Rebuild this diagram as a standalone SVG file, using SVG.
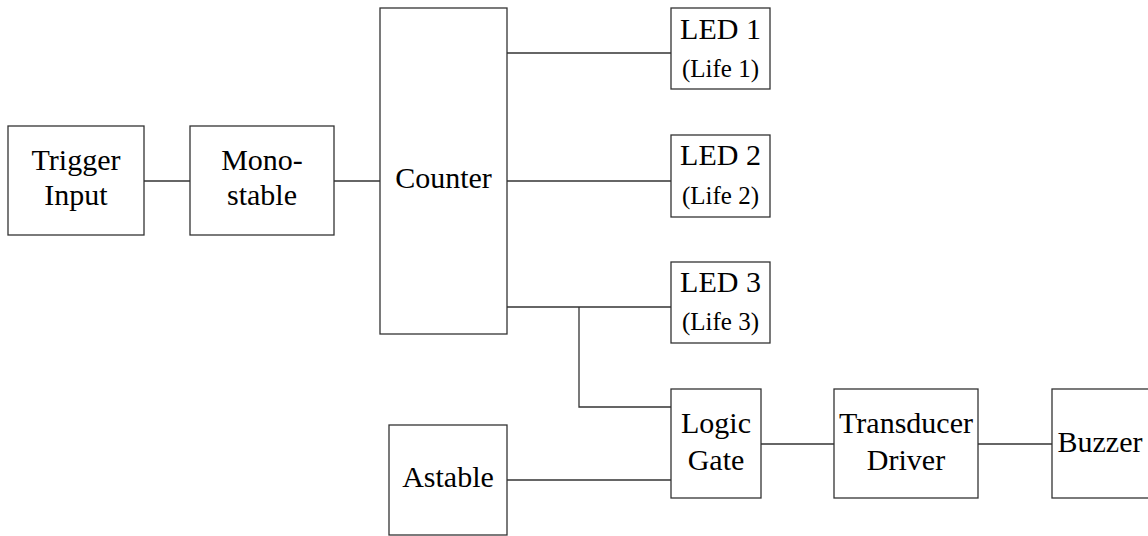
<svg xmlns="http://www.w3.org/2000/svg" width="1148" height="536" viewBox="0 0 1148 536">
<rect width="1148" height="536" fill="#fff"/>
<g id="connectors" fill="none" stroke="#333" stroke-width="1.3">
<line x1="144" y1="181" x2="190" y2="181"/>
<line x1="334" y1="181" x2="380" y2="181"/>
<line x1="507" y1="53" x2="671" y2="53"/>
<line x1="507" y1="181" x2="671" y2="181"/>
<line x1="507" y1="307" x2="671" y2="307"/>
<polyline points="579,307 579,407 671,407"/>
<line x1="507" y1="480" x2="671" y2="480"/>
<line x1="761" y1="444" x2="834" y2="444"/>
<line x1="978" y1="444" x2="1052" y2="444"/>
</g>
<g id="nodes" font-family="Liberation Serif" font-size="30" text-anchor="middle">
<g id="trigger"><rect x="8" y="126" width="136" height="109" fill="#fff" stroke="#333" stroke-width="1.3"/><text x="76" y="170">Trigger</text><text x="76" y="205">Input</text></g>
<g id="monostable"><rect x="190" y="126" width="144" height="109" fill="#fff" stroke="#333" stroke-width="1.3"/><text x="262" y="170">Mono-</text><text x="262" y="205">stable</text></g>
<g id="counter"><rect x="380" y="8" width="127" height="326" fill="#fff" stroke="#333" stroke-width="1.3"/><text x="443.5" y="188">Counter</text></g>
<g id="led1"><rect x="671" y="8" width="99" height="81" fill="#fff" stroke="#333" stroke-width="1.3"/><text x="720.5" y="39">LED 1</text><text x="720.5" y="77" font-size="25">(Life 1)</text></g>
<g id="led2"><rect x="671" y="135" width="99" height="82" fill="#fff" stroke="#333" stroke-width="1.3"/><text x="720.5" y="165">LED 2</text><text x="720.5" y="204" font-size="25">(Life 2)</text></g>
<g id="led3"><rect x="671" y="262" width="99" height="81" fill="#fff" stroke="#333" stroke-width="1.3"/><text x="720.5" y="292">LED 3</text><text x="720.5" y="330" font-size="25">(Life 3)</text></g>
<g id="logic"><rect x="671" y="389" width="90" height="109" fill="#fff" stroke="#333" stroke-width="1.3"/><text x="716" y="433">Logic</text><text x="716" y="470">Gate</text></g>
<g id="astable"><rect x="389" y="425" width="118" height="110" fill="#fff" stroke="#333" stroke-width="1.3"/><text x="448" y="487">Astable</text></g>
<g id="transducer"><rect x="834" y="389" width="144" height="109" fill="#fff" stroke="#333" stroke-width="1.3"/><text x="906" y="433">Transducer</text><text x="906" y="470">Driver</text></g>
<g id="buzzer"><rect x="1052" y="389" width="120" height="109" fill="#fff" stroke="#333" stroke-width="1.3"/><text x="1100" y="452">Buzzer</text></g>
</g>
</svg>
